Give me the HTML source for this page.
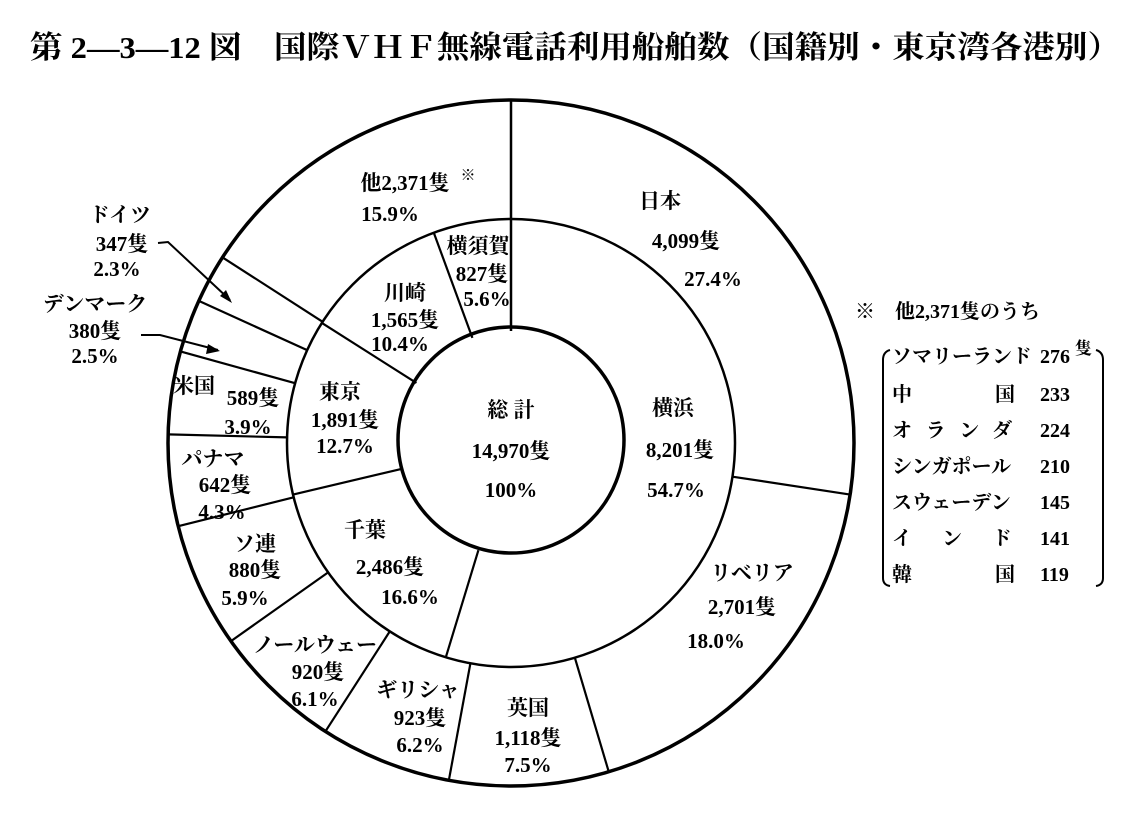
<!DOCTYPE html>
<html><head><meta charset="utf-8"><style>
html,body{margin:0;padding:0;background:#fff;}
svg{display:block;}
text{font-family:"Liberation Serif","Noto Serif CJK JP","Noto Sans CJK JP",serif;fill:#000;font-weight:bold;}
.l{font-size:21px;text-anchor:middle;}
</style></head><body>
<svg id="s" width="1129" height="821" viewBox="0 0 1129 821" xmlns="http://www.w3.org/2000/svg">
<text x="30" y="58" font-size="31" textLength="1090" lengthAdjust="spacingAndGlyphs" font-family="Liberation Sans, Noto Sans CJK JP, sans-serif">第 2—3—12 図　国際ＶＨＦ無線電話利用船舶数（国籍別・東京湾各港別）</text>
<g id="g" stroke="#000" fill="none">
<circle cx="511" cy="443" r="343" stroke-width="3.5"/>
<circle cx="511" cy="443" r="224" stroke-width="2.5"/>
<circle cx="511" cy="440" r="113" stroke-width="3.5"/>
</g>
<path d="M158,243 L168,242 L230,300" stroke="#000" stroke-width="2" fill="none"/>
<polygon points="232,303 220,296 226,290" fill="#000"/>
<path d="M141,335 L160,335 L218,350" stroke="#000" stroke-width="2" fill="none"/>
<polygon points="220,351 206,354 208,344" fill="#000"/>
<g class="l">
<text x="405" y="190">他2,371隻</text><text x="468" y="180" font-size="15">※</text>
<text x="390" y="221">15.9%</text>
<text x="660" y="208">日本</text><text x="686" y="248">4,099隻</text><text x="713" y="286">27.4%</text>
<text x="478" y="253">横須賀</text><text x="482" y="281">827隻</text><text x="487" y="306">5.6%</text>
<text x="405" y="300">川崎</text><text x="405" y="327">1,565隻</text><text x="400" y="351">10.4%</text>
<text x="340" y="399">東京</text><text x="345" y="427">1,891隻</text><text x="345" y="453">12.7%</text>
<text x="511" y="417">総 計</text><text x="511" y="458">14,970隻</text><text x="511" y="497">100%</text>
<text x="673" y="415">横浜</text><text x="680" y="457">8,201隻</text><text x="676" y="497">54.7%</text>
<text x="194" y="393">米国</text><text x="253" y="405">589隻</text><text x="248" y="434">3.9%</text>
<text x="213" y="466">パナマ</text><text x="225" y="492">642隻</text><text x="222" y="519">4.3%</text>
<text x="255" y="551">ソ連</text><text x="255" y="577">880隻</text><text x="245" y="605">5.9%</text>
<text x="365" y="537">千葉</text><text x="390" y="574">2,486隻</text><text x="410" y="604">16.6%</text>
<text x="315" y="652">ノールウェー</text><text x="318" y="679">920隻</text><text x="315" y="706">6.1%</text>
<text x="418" y="697">ギリシャ</text><text x="420" y="725">923隻</text><text x="420" y="752">6.2%</text>
<text x="528" y="715">英国</text><text x="528" y="745">1,118隻</text><text x="528" y="772">7.5%</text>
<text x="752" y="580">リベリア</text><text x="742" y="614">2,701隻</text><text x="716" y="648">18.0%</text>
<text x="120" y="222">ドイツ</text><text x="122" y="251">347隻</text><text x="117" y="276">2.3%</text>
<text x="95" y="311">デンマーク</text><text x="95" y="338">380隻</text><text x="95" y="363">2.5%</text>
</g>
<g font-size="20">
<text x="855" y="318">※</text><text x="895" y="318">他2,371隻のうち</text>
<text x="892" y="363">ソマリーランド</text><text x="1040" y="363">276</text><text x="1075" y="354" font-size="17">隻</text>
<text x="892" y="401">中</text><text x="995" y="401">国</text><text x="1040" y="401">233</text>
<text x="892" y="437" textLength="120" lengthAdjust="spacing">オランダ</text><text x="1040" y="437">224</text>
<text x="892" y="473">シンガポール</text><text x="1040" y="473">210</text>
<text x="892" y="509">スウェーデン</text><text x="1040" y="509">145</text>
<text x="892" y="545" textLength="120" lengthAdjust="spacing">インド</text><text x="1040" y="545">141</text>
<text x="892" y="581">韓</text><text x="995" y="581">国</text><text x="1040" y="581">119</text>
</g>
<path d="M890,350 Q883,352 883,360 L883,578 Q883,585 890,586" stroke="#000" stroke-width="2" fill="none"/>
<path d="M1096,350 Q1103,352 1103,360 L1103,578 Q1103,585 1096,586" stroke="#000" stroke-width="2" fill="none"/>
</svg>
<script>
(function(){
var g=document.getElementById('g'),cx=511,cy=443;
function line(a,r1,r2,w){var t=a*2*Math.PI/100;var s=Math.sin(t),c=-Math.cos(t);
var l=document.createElementNS('http://www.w3.org/2000/svg','line');
l.setAttribute('x1',cx+r1*s);l.setAttribute('y1',cy+r1*c);l.setAttribute('x2',cx+r2*s);l.setAttribute('y2',cy+r2*c);
l.setAttribute('stroke-width',w);g.appendChild(l);}
var outer=[27.4,18,7.5,6.2,6.1,5.9,4.3,3.9,2.5,2.3,15.9],acc=0;
line(0,112,343,2.5);
for(var i=0;i<outer.length-1;i++){acc+=outer[i];line(acc,224,343,2.2);}
var mid=[54.7,16.6,12.7,10.4,5.6];acc=0;
for(i=0;i<mid.length-1;i++){acc+=mid[i];line(acc,112,224,2.2);}
})();
</script>
</body></html>
